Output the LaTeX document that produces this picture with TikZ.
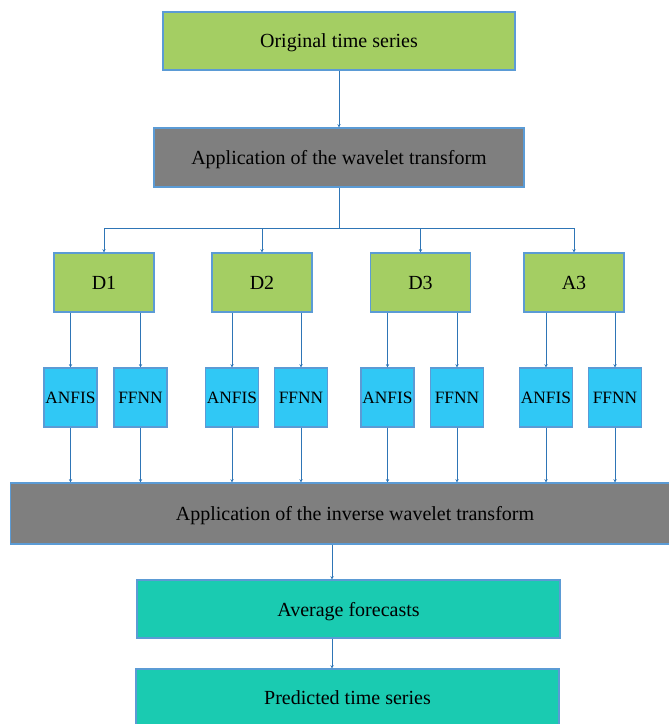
\documentclass[tikz,border=0pt]{standalone}
\usepackage{fontspec}
\setmainfont{Liberation Serif}
\usepackage{tikz}
\usepackage{xcolor}
\usetikzlibrary{arrows.meta, positioning, calc}
\definecolor{leafgreen}{HTML}{A4CE63}
\definecolor{stepgray}{HTML}{7F7F7F}
\definecolor{modelblue}{HTML}{30C8F5}
\definecolor{outteal}{HTML}{1ACBB1}
\definecolor{edgeblue}{HTML}{5B9BD5}
\definecolor{linkblue}{HTML}{2E75B6}

\begin{document}
\begin{tikzpicture}[x=0.75pt, y=-0.75pt,
            bx/.style={rectangle, draw=edgeblue, line width=0.8pt, inner sep=1pt, text depth=0pt,
                       font=\fontsize{15}{18}\selectfont},
            green/.style={bx, fill=leafgreen, minimum height=43.5pt},
            gray/.style={bx, fill=stepgray, minimum height=44.25pt},
            dnode/.style={bx, fill=leafgreen, minimum width=75pt, minimum height=44.25pt},
            model/.style={bx, fill=modelblue, minimum width=39.75pt, minimum height=44.25pt,
                          font=\fontsize{13}{15}\selectfont},
            teal/.style={bx, fill=outteal, minimum width=317.25pt, minimum height=43.5pt},
            arr/.style={draw=linkblue, line width=0.6pt, -{Stealth[length=2.5pt, width=2.5pt]}}]
            \useasboundingbox (0,0) rectangle (668,724);
            % top of the chain
            \node[green, minimum width=264pt] (orig) at (339,41) {Original time series};
            \node[gray, minimum width=277.5pt] (wave) at (339,157.5) {Application of the wavelet transform};
            \draw[arr] (orig.south) -- (wave.north);
            % sub-series
            \node[dnode] (d1) at (104,282.5) {D1};
            \node[dnode] (d2) at (262,282.5) {D2};
            \node[dnode] (d3) at (420.5,282.5) {D3};
            \node[dnode] (a3) at (574,282.5) {A3};
            \coordinate (split) at (339,228);
            \draw[draw=linkblue, line width=0.6pt] (wave.south) -- (split);
            \foreach \n in {d1,d2,d3,a3}
                \draw[arr] (split) -| (\n.north);
            % models
            \node[model] (an1) at (70.5,397.5) {ANFIS};
            \node[model] (ff1) at (140.5,397.5) {FFNN};
            \node[model] (an2) at (232,397.5) {ANFIS};
            \node[model] (ff2) at (301,397.5) {FFNN};
            \node[model] (an3) at (387.5,397.5) {ANFIS};
            \node[model] (ff3) at (457,397.5) {FFNN};
            \node[model] (an4) at (546,397.5) {ANFIS};
            \node[model] (ff4) at (615,397.5) {FFNN};
            \node[gray, minimum width=517pt, minimum height=45.75pt] (inv) at (355,513.5) {Application of the inverse wavelet transform};
            \foreach \d/\a/\f in {d1/an1/ff1, d2/an2/ff2, d3/an3/ff3, a3/an4/ff4} {
                \draw[arr] (\d.south -| \a.north) -- (\a.north);
                \draw[arr] (\d.south -| \f.north) -- (\f.north);
                \draw[arr] (\a.south) -- (\a.south |- inv.north);
                \draw[arr] (\f.south) -- (\f.south |- inv.north);
            }
            % output
            \node[teal] (avg) at (348.5,609) {Average forecasts};
            \node[teal] (pred) at (347.5,698) {Predicted time series};
            \coordinate (mid) at (332,0);
            \draw[arr] (inv.south -| mid) -- (avg.north -| mid);
            \draw[arr] (avg.south -| mid) -- (pred.north -| mid);
        \end{tikzpicture}
\end{document}
